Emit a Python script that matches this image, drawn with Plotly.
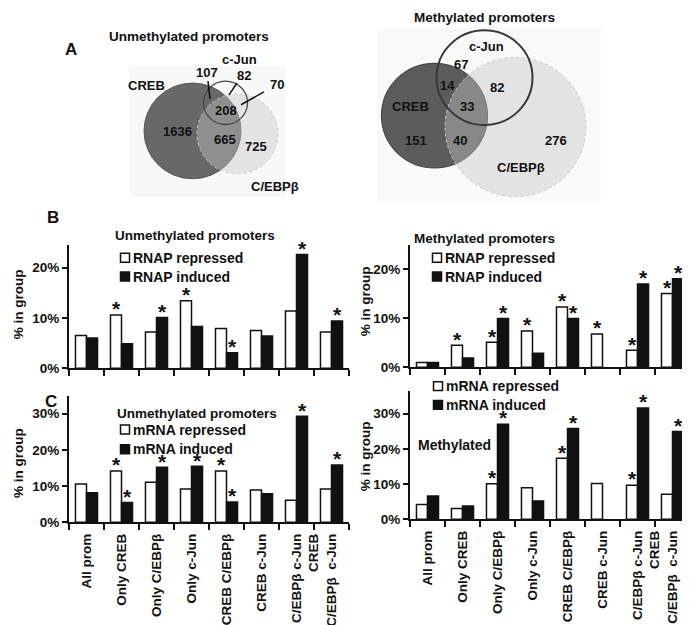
import plotly.graph_objects as go

W, H = 690, 625

# ---------------- data ----------------
groups = ["All prom", "Only CREB", "Only C/EBPβ", "Only c-Jun", "CREB C/EBPβ",
          "CREB c-Jun", "C/EBPβ c-Jun", "CREB<br>C/EBPβ\u00a0\u00a0c-Jun"]

rnap_unmeth_repressed = [6.5, 10.6, 7.2, 13.4, 7.9, 7.5, 11.4, 7.2]
rnap_unmeth_induced = [6.0, 4.9, 10.1, 8.3, 3.1, 6.4, 22.6, 9.4]
rnap_unmeth_rep_sig = [0, 1, 0, 1, 0, 0, 0, 0]
rnap_unmeth_ind_sig = [0, 0, 1, 0, 1, 0, 1, 1]

rnap_meth_repressed = [1.0, 4.5, 5.1, 7.4, 12.3, 6.8, 3.5, 15.1]
rnap_meth_induced = [1.0, 1.9, 10.0, 2.9, 10.0, None, 17.0, 18.1]
rnap_meth_rep_sig = [0, 1, 1, 1, 1, 1, 1, 1]
rnap_meth_ind_sig = [0, 0, 1, 0, 1, 0, 1, 1]

mrna_unmeth_repressed = [10.6, 14.2, 11.1, 9.2, 14.2, 8.9, 6.1, 9.2]
mrna_unmeth_induced = [8.2, 5.5, 15.2, 15.5, 5.6, 7.9, 29.3, 15.8]
mrna_unmeth_rep_sig = [0, 1, 0, 0, 1, 0, 0, 0]
mrna_unmeth_ind_sig = [0, 1, 1, 1, 1, 0, 1, 1]

mrna_meth_repressed = [4.2, 3.1, 10.1, 9.0, 17.3, 10.2, 9.7, 7.1]
mrna_meth_induced = [6.6, 3.8, 27.0, 5.2, 25.8, None, 31.6, 24.9]
mrna_meth_rep_sig = [0, 0, 1, 0, 1, 0, 1, 0]
mrna_meth_ind_sig = [0, 0, 1, 0, 1, 0, 1, 1]

venn_unmeth_counts = [1636, 107, 82, 70, 208, 665, 725]   # CREB only, CREB+cJun, cJun only, cJun+CEBP, all, CREB+CEBP, CEBP only
venn_meth_counts = [151, 14, 67, 82, 33, 40, 276]

ytick_vals_b = [0, 10, 20]
ytick_text_b = ["0%", "10%", "20%"]
ytick_vals_c = [0, 10, 20, 30]
ytick_text_c = ["0%", "10%", "20%", "30%"]

# ---------------- helpers ----------------
def px(x):
    return x / W

def py(y):
    return 1 - y / H

FONT = "Liberation Sans, Arial, sans-serif"
INK = "#111111"
BARGAP = 0.37
GROUP_PX = 35.0
LINE_PX = 17.5

idx = list(range(len(groups)))
half = (1 - BARGAP) / 4.0
# label positions: multi-line rotated labels are shifted so the block is centred on its group
label_pos = [i - g.count("<br>") * (LINE_PX / 2) / GROUP_PX for i, g in zip(idx, groups)]
bounds = [i - 0.5 for i in idx] + [idx[-1] + 0.5]

fig = go.Figure()

def add_pair(rep, ind, rep_sig, ind_sig, xa, ya, rng, h_px):
    d = 4.0 * rng / h_px   # star offset a few px above the bar top
    for k, (vals, sig, fill) in enumerate([(rep, rep_sig, "white"), (ind, ind_sig, INK)]):
        fig.add_trace(go.Bar(
            x=idx, y=vals, xaxis=xa, yaxis=ya,
            marker=dict(color=fill, line=dict(color=INK, width=1.5)),
            showlegend=False, hoverinfo="skip"))
        sx = [i + (2 * k - 1) * half for i, s in zip(idx, sig) if s]
        sy = [v + d for v, s in zip(vals, sig) if s]
        fig.add_trace(go.Scatter(
            x=sx, y=sy, xaxis=xa, yaxis=ya, mode="text", text=["*"] * len(sx),
            textposition="middle center", cliponaxis=False,
            textfont=dict(size=21, color=INK, family=FONT, weight="bold"),
            showlegend=False, hoverinfo="skip"))

add_pair(rnap_unmeth_repressed, rnap_unmeth_induced, rnap_unmeth_rep_sig, rnap_unmeth_ind_sig, "x", "y", 24.5, 125)
add_pair(rnap_meth_repressed, rnap_meth_induced, rnap_meth_rep_sig, rnap_meth_ind_sig, "x2", "y2", 25, 124)
add_pair(mrna_unmeth_repressed, mrna_unmeth_induced, mrna_unmeth_rep_sig, mrna_unmeth_ind_sig, "x3", "y3", 34.9, 128)
add_pair(mrna_meth_repressed, mrna_meth_induced, mrna_meth_rep_sig, mrna_meth_ind_sig, "x4", "y4", 36.4, 130)

def xax(domain, anchor, labels):
    return dict(domain=domain, anchor=anchor, range=[-0.5, 7.5],
                tickmode="array", tickvals=label_pos, ticktext=groups, ticks="",
                minor=dict(tickmode="array", tickvals=bounds, ticks="outside", ticklen=6,
                           tickwidth=1.5, tickcolor=INK, showgrid=False),
                showline=True, linewidth=2, linecolor=INK, showgrid=False, zeroline=False,
                showticklabels=labels, tickangle=-90, ticklabelstandoff=4,
                tickfont=dict(size=13.5, family=FONT, color=INK, weight="bold"))

def yax(domain, anchor, rng, vals, text):
    return dict(domain=domain, anchor=anchor, range=rng, tickvals=vals, ticktext=text,
                ticks="outside", ticklen=5, tickwidth=1.5, tickcolor=INK,
                showline=True, linewidth=2, linecolor=INK, showgrid=False, zeroline=False,
                tickfont=dict(size=13.5, family=FONT, color=INK, weight="bold"))

XL = [px(61), px(341)]
XR = [px(402), px(682)]

layout = dict(
    width=W, height=H, autosize=False,
    margin=dict(l=0, r=0, t=0, b=0),
    paper_bgcolor="white", plot_bgcolor="rgba(0,0,0,0)",
    barmode="group", bargap=BARGAP, bargroupgap=0,
    font=dict(family=FONT, color=INK, size=13.5, weight="bold"),
    xaxis=xax(XL, "y", False),
    yaxis=yax([py(365), py(240)], "x", [0, 24.5], ytick_vals_b, ytick_text_b),
    xaxis2=xax(XR, "y2", False),
    yaxis2=yax([py(364), py(240)], "x2", [0, 25], ytick_vals_b, ytick_text_b),
    xaxis3=xax(XL, "y3", True),
    yaxis3=yax([py(521), py(393)], "x3", [0, 34.9], ytick_vals_c, ytick_text_c),
    xaxis4=xax(XR, "y4", True),
    yaxis4=yax([py(518), py(388)], "x4", [0, 36.4], ytick_vals_c, ytick_text_c),
)
fig.update_layout(**layout)

shapes = []
annos = []

def text(x, y, s, size=13.5, anchor="center", angle=0):
    annos.append(dict(x=px(x), y=py(y), xref="paper", yref="paper", text=s, showarrow=False,
                      xanchor=anchor, yanchor="middle", textangle=angle,
                      font=dict(size=size, family=FONT, color=INK, weight="bold")))

def circle(cx, cy, r, fill, line_color, line_width, dash="solid"):
    shapes.append(dict(type="circle", xref="paper", yref="paper",
                       x0=px(cx - r), x1=px(cx + r), y0=py(cy + r), y1=py(cy - r),
                       fillcolor=fill, line=dict(color=line_color, width=line_width, dash=dash)))

def seg(x0, y0, x1, y1, w=1.5):
    shapes.append(dict(type="line", xref="paper", yref="paper", x0=px(x0), y0=py(y0),
                       x1=px(x1), y1=py(y1), line=dict(color=INK, width=w)))

def bgrect(x0, y0, x1, y1, fill):
    shapes.append(dict(type="rect", xref="paper", yref="paper", x0=px(x0), y0=py(y1),
                       x1=px(x1), y1=py(y0), fillcolor=fill, line=dict(width=0), layer="below"))

# ---------------- Venn A (unmethylated) ----------------
bgrect(121, 59, 278, 191, "rgb(248,248,248)")
circle(184.5, 124.5, 48.5, "rgb(104,104,104)", "rgb(90,90,90)", 1)
circle(229.5, 127.5, 40.5, "rgba(197,197,197,0.42)", "rgb(200,200,200)", 1, "dot")
circle(217.5, 96, 22, "rgba(0,0,0,0)", "rgb(70,70,70)", 1.3)
seg(200, 74, 202, 92)
seg(229, 76, 221, 88)
seg(256, 85, 233, 98)

text(181, 29, "Unmethylated promoters", 13.5)
text(63, 42, "A", 17)
text(231, 52, "c-Jun", 13)
text(138, 79, "CREB", 13)
u = venn_unmeth_counts
text(169, 125, str(u[0]), 13)
text(199, 65, str(u[1]), 13)
text(236, 68, str(u[2]), 13)
text(269, 77, str(u[3]), 13)
text(218, 104, str(u[4]), 13)
text(217, 133, str(u[5]), 13)
text(248, 140, str(u[6]), 13)
text(267, 181, "C/EBPβ", 13)

# ---------------- Venn A (methylated) ----------------
bgrect(369, 20, 593, 197, "rgb(249,249,249)")
circle(426.5, 109, 53, "rgb(92,92,92)", "rgb(70,70,70)", 1.2)
circle(507.5, 120.5, 70.5, "rgba(197,197,197,0.42)", "rgb(200,200,200)", 1, "dot")
circle(476.5, 70.5, 48, "rgba(0,0,0,0)", "rgb(55,55,55)", 2)

text(476, 10, "Methylated promoters", 13.5)
text(478, 39, "c-Jun", 13)
text(402, 100, "CREB", 13)
m = venn_meth_counts
text(408, 134, str(m[0]), 13)
text(439, 78, str(m[1]), 13)
text(453, 57, str(m[2]), 13)
text(489, 81, str(m[3]), 13)
text(459, 100, str(m[4]), 13)
text(452, 134, str(m[5]), 13)
text(548, 134, str(m[6]), 13)
text(513, 162, "C/EBPβ", 13)

# ---------------- panel letters / titles ----------------
text(45, 212, "B", 17)
text(43, 399, "C", 17)
text(187, 230, "Unmethylated promoters", 13.5)
text(476, 233, "Methylated promoters", 13.5)
text(189, 411, "Unmethylated promoters", 13.5)
text(446, 443, "Methylated", 14)

# y-axis titles
text(10, 300, "% in group", 13.5, angle=-90)
text(357, 297, "% in group", 13.5, angle=-90)
text(10, 461, "% in group", 13.5, angle=-90)
text(357, 454, "% in group", 13.5, angle=-90)

# ---------------- custom legends ----------------
def legend_item(sx, y, label, filled, tx):
    s = 9
    shapes.append(dict(type="rect", xref="paper", yref="paper",
                       x0=px(sx - s / 2), x1=px(sx + s / 2), y0=py(y + s / 2), y1=py(y - s / 2),
                       fillcolor=INK if filled else "white", line=dict(color=INK, width=1.5)))
    text(tx, y, label, 14, anchor="left")

legend_item(117, 253, "RNAP repressed", False, 123)
legend_item(117, 272, "RNAP induced", True, 123)
legend_item(429, 253, "RNAP repressed", False, 435)
legend_item(429, 272, "RNAP induced", True, 435)
legend_item(117, 427, "mRNA repressed", False, 123)
legend_item(117, 447, "mRNA induced", True, 123)
legend_item(430, 383, "mRNA repressed", False, 436)
legend_item(430, 402, "mRNA induced", True, 436)

fig.update_layout(shapes=shapes, annotations=annos)

fig.write_html("out.html")
